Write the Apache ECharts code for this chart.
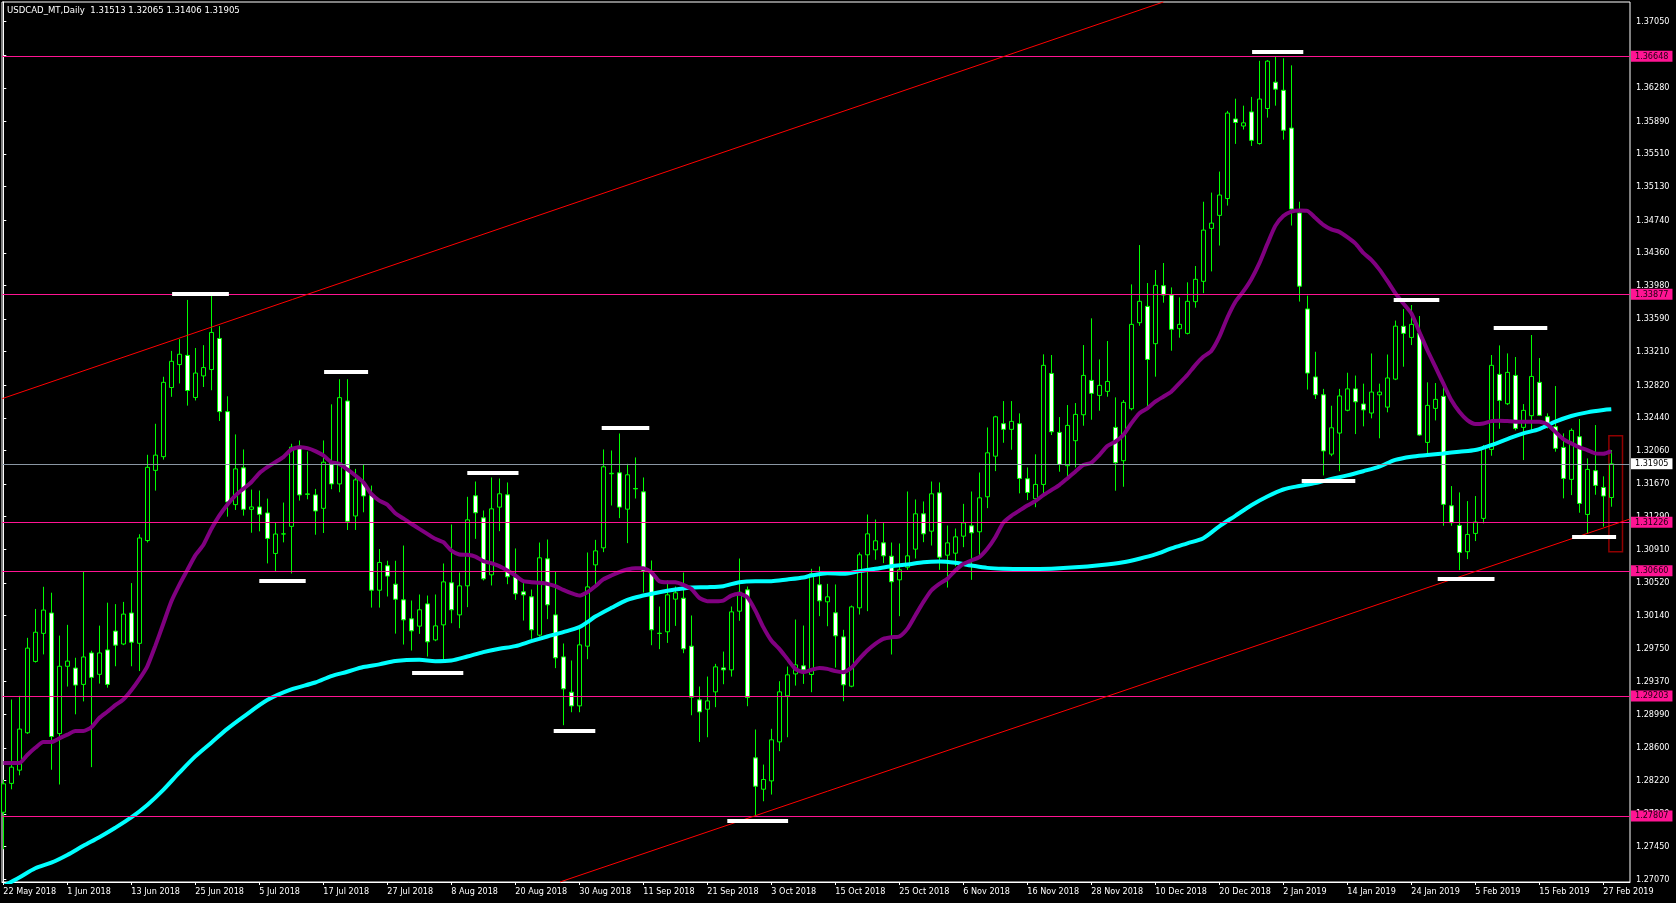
<!DOCTYPE html>
<html>
<head>
<meta charset="utf-8">
<script src="https://cdn.jsdelivr.net/npm/echarts@6/dist/echarts.min.js"></script>
<style>
html,body{margin:0;padding:0;background:#000;}
#chart{width:1676px;height:903px;}
</style>
</head>
<body>
<div id="chart"></div>
<script>
// ---- data ----
const titleText = 'USDCAD_MT,Daily  1.31513 1.32065 1.31406 1.31905';

const xTickBars = [0,8,16,24,32,40,48,56,64,72,80,88,96,104,112,120,128,136,144,152,160,168,176,184,192,200];
const xTickLabels = ['22 May 2018','1 Jun 2018','13 Jun 2018','25 Jun 2018','5 Jul 2018','17 Jul 2018','27 Jul 2018','8 Aug 2018','20 Aug 2018','30 Aug 2018','11 Sep 2018','21 Sep 2018','3 Oct 2018','15 Oct 2018','25 Oct 2018','6 Nov 2018','16 Nov 2018','28 Nov 2018','10 Dec 2018','20 Dec 2018','2 Jan 2019','14 Jan 2019','24 Jan 2019','5 Feb 2019','15 Feb 2019','27 Feb 2019'];

const yTickPrices = [1.27070,1.27450,1.27830,1.28220,1.28600,1.28990,1.29370,1.29750,1.30140,1.30520,1.30910,1.31290,1.31670,1.32060,1.32440,1.32820,1.33210,1.33590,1.33980,1.34360,1.34740,1.35130,1.35510,1.35890,1.36280,1.36660,1.37050];

const openP = [1.27850,1.28186,1.28340,1.28775,1.29605,1.29932,1.30169,1.28766,1.29549,1.29528,1.29338,1.29704,1.29455,1.29739,1.29958,1.29808,1.30169,1.29816,1.31012,1.31829,
1.31988,1.32793,1.33060,1.33167,1.32677,1.32928,1.33002,1.33364,1.32512,1.31430,1.31858,1.31376,1.31403,1.31333,1.30862,1.31088,1.31177,1.32111,1.31555,1.31543,
1.31387,1.31913,1.31671,1.32636,1.31298,1.31679,1.31535,1.30434,1.30718,1.30504,1.30322,1.30101,1.30016,1.30275,1.29856,1.30031,1.30520,1.30147,1.30485,1.31533,
1.31276,1.30613,1.31401,1.31544,1.30586,1.30415,1.30357,1.29911,1.30799,1.30147,1.29658,1.29247,1.29088,1.29783,1.30729,1.30927,1.31789,1.31800,1.31377,1.31618,
1.31579,1.30636,1.29934,1.29950,1.30330,1.30341,1.29783,1.29158,1.29049,1.29251,1.29530,1.29507,1.30190,1.30438,1.28483,1.28118,1.28215,1.28669,1.29205,1.29460,
1.29554,1.29453,1.30497,1.30299,1.30171,1.29891,1.29317,1.30229,1.30846,1.30904,1.30985,1.30830,1.30555,1.30702,1.30912,1.31323,1.31121,1.31567,1.30842,1.30865,
1.31063,1.31183,1.31114,1.31521,1.31994,1.32372,1.32306,1.32372,1.31731,1.31499,1.31665,1.32957,1.32271,1.31883,1.32174,1.32476,1.32876,1.32701,1.32748,1.32329,
1.31941,1.32546,1.33547,1.33737,1.33303,1.33978,1.33869,1.33477,1.33423,1.33792,1.34029,1.34645,1.34796,1.34992,1.35918,1.35836,1.36000,1.35632,1.36040,1.36346,
1.36252,1.35812,1.34825,1.33707,1.32916,1.32708,1.32018,1.32263,1.32528,1.32777,1.32601,1.32496,1.32708,1.32565,1.32891,1.33505,1.33376,1.33423,1.32154,1.32550,
1.32690,1.31417,1.31188,1.30882,1.31095,1.31270,1.32073,1.32946,1.32604,1.32934,1.32329,1.32465,1.32853,1.32453,1.32337,1.32096,1.31724,1.32220,1.31316,1.31825,
1.31630,1.31513];
const closeP = [1.28181,1.28375,1.28818,1.29760,1.29945,1.30203,1.28732,1.29549,1.29609,1.29330,1.29657,1.29420,1.29704,1.29338,1.29795,1.30156,1.29829,1.31042,1.31864,1.32006,
1.32853,1.33098,1.33180,1.32758,1.32961,1.33025,1.33434,1.32512,1.31461,1.31846,1.31376,1.31403,1.31317,1.31037,1.31088,1.31090,1.32099,1.31543,1.31550,1.31356,
1.31924,1.31671,1.32675,1.31236,1.31718,1.31531,1.30434,1.30757,1.30598,1.30329,1.30089,1.29961,1.30206,1.29833,1.30019,1.30531,1.30206,1.30485,1.31253,1.31335,
1.30566,1.31381,1.31556,1.30590,1.30392,1.30380,1.29973,1.30811,1.30264,1.29647,1.29286,1.29088,1.29798,1.30473,1.30892,1.31870,1.31795,1.31401,1.31777,1.31613,
1.30656,1.29973,1.29930,1.30380,1.30404,1.29752,1.29189,1.29018,1.29146,1.29542,1.29507,1.30182,1.30411,1.29185,1.28153,1.28231,1.28693,1.29251,1.29449,1.29565,
1.29507,1.30625,1.30310,1.30357,1.29903,1.29333,1.30240,1.30846,1.31090,1.31009,1.30834,1.30532,1.30671,1.30834,1.31323,1.31090,1.31556,1.30819,1.30985,1.31055,
1.31218,1.31102,1.31509,1.32033,1.32452,1.32306,1.32399,1.31735,1.31572,1.31665,1.33051,1.32278,1.31898,1.32352,1.32480,1.32934,1.32725,1.32818,1.32864,1.31918,
1.32620,1.33528,1.33796,1.33120,1.33982,1.33869,1.33470,1.33528,1.33796,1.34052,1.34625,1.34706,1.35033,1.35987,1.35877,1.35873,1.35669,1.36150,1.36591,1.36265,
1.35787,1.34870,1.33972,1.32961,1.32708,1.32055,1.32324,1.32695,1.32777,1.32626,1.32532,1.32740,1.32740,1.32904,1.33507,1.33423,1.33528,1.32240,1.32585,1.32655,
1.31433,1.31219,1.30874,1.31083,1.31227,1.32084,1.33051,1.32643,1.32969,1.32317,1.32527,1.32922,1.32469,1.32364,1.32085,1.31735,1.32294,1.31444,1.31840,1.31654,
1.31530,1.31905];
const lowP = [1.27420,1.28117,1.28280,1.28762,1.29592,1.29687,1.28345,1.28173,1.29313,1.28990,1.29140,1.28375,1.29347,1.29300,1.29549,1.29795,1.29549,1.29493,1.30990,1.31593,
1.31954,1.32685,1.32840,1.32582,1.32642,1.32799,1.32761,1.32403,1.31290,1.31368,1.31302,1.31103,1.31119,1.30746,1.30648,1.30991,1.30629,1.31477,1.31492,1.31080,
1.31100,1.31609,1.31574,1.31135,1.31135,1.31341,1.30232,1.30232,1.30361,1.29929,1.29802,1.29732,1.29926,1.29662,1.29841,1.29596,1.30050,1.29992,1.30237,1.31032,
1.30547,1.30489,1.31121,1.30504,1.30322,1.30081,1.29868,1.29895,1.30097,1.29527,1.28863,1.29014,1.29014,1.29631,1.30481,1.30877,1.31420,1.31273,1.30982,1.31501,
1.30407,1.29794,1.29748,1.29821,1.30019,1.29701,1.28979,1.28668,1.28723,1.29073,1.29340,1.29429,1.30078,1.29084,1.27812,1.27978,1.28056,1.28561,1.28723,1.29324,
1.29344,1.29247,1.30132,1.30015,1.29534,1.29142,1.29305,1.30151,1.30190,1.30788,1.30749,1.29686,1.30132,1.30671,1.30803,1.30993,1.30954,1.30671,1.30465,1.30714,
1.30935,1.30555,1.30842,1.31389,1.31820,1.32150,1.32069,1.31561,1.31483,1.31400,1.31541,1.32240,1.31813,1.31762,1.31863,1.32348,1.32418,1.32523,1.32686,1.31592,
1.31638,1.32527,1.33512,1.32558,1.32919,1.33780,1.33221,1.33373,1.33411,1.33722,1.33891,1.34144,1.34445,1.34910,1.35628,1.35795,1.35604,1.35620,1.35934,1.36073,
1.35677,1.34678,1.33793,1.32769,1.32659,1.31770,1.31994,1.31819,1.32516,1.32251,1.32341,1.32434,1.32202,1.32504,1.32879,1.33035,1.33287,1.32232,1.32026,1.32410,
1.31184,1.31184,1.30668,1.30796,1.31006,1.31212,1.31999,1.32313,1.32589,1.32294,1.31949,1.32278,1.32461,1.32317,1.32046,1.31503,1.31541,1.31336,1.31095,1.31545,
1.31173,1.31406];
const highP = [1.28228,1.29162,1.29205,1.29880,1.30216,1.30474,1.30405,1.29906,1.30031,1.29648,1.30655,1.29730,1.30022,1.30289,1.30272,1.30298,1.30517,1.31085,1.32010,1.32371,
1.32918,1.33219,1.33356,1.33812,1.33253,1.33286,1.33858,1.33507,1.32691,1.32247,1.32072,1.31605,1.31594,1.31500,1.31220,1.31454,1.32138,1.32177,1.32049,1.31613,
1.32177,1.32597,1.32889,1.32889,1.31846,1.31897,1.31652,1.30913,1.30777,1.30777,1.30954,1.30314,1.30384,1.30372,1.30384,1.30745,1.31199,1.30640,1.31521,1.31699,
1.31362,1.31746,1.31734,1.31688,1.30920,1.30516,1.30442,1.30989,1.31024,1.30652,1.29814,1.29616,1.30004,1.30873,1.31020,1.32072,1.32060,1.32258,1.31905,1.31979,
1.31746,1.30780,1.30244,1.30547,1.30477,1.30640,1.30140,1.29313,1.29429,1.29577,1.29720,1.30244,1.30803,1.30477,1.28813,1.28405,1.28821,1.29375,1.29546,1.30093,
1.30023,1.30683,1.30710,1.30508,1.30501,1.29973,1.30256,1.30873,1.31315,1.31257,1.31222,1.30989,1.30978,1.31583,1.31490,1.31467,1.31699,1.31688,1.31187,1.31152,
1.31439,1.31583,1.31804,1.32328,1.32464,1.32635,1.32635,1.32492,1.31863,1.32015,1.33179,1.33171,1.32449,1.32589,1.32612,1.33287,1.33598,1.33120,1.33334,1.32678,
1.32647,1.33993,1.34451,1.34009,1.34160,1.34242,1.33958,1.33842,1.34017,1.34207,1.34955,1.35061,1.35306,1.36012,1.36154,1.36073,1.36175,1.36595,1.36603,1.36644,
1.36624,1.36542,1.34955,1.33862,1.33209,1.32777,1.32581,1.32777,1.32965,1.32932,1.32838,1.33189,1.32838,1.33177,1.33572,1.33706,1.33753,1.33625,1.32853,1.32845,
1.32810,1.31646,1.31572,1.31471,1.31530,1.32123,1.33171,1.33283,1.33190,1.33148,1.32600,1.33404,1.33136,1.32492,1.32810,1.32259,1.32317,1.32426,1.31968,1.32356,
1.31759,1.32065];

// fast moving average (purple), read as [bar, price]
const maFast = [[0,1.28422],[1,1.28422],[2,1.28422],[3,1.28517],[4,1.28600],[5,1.28667],[6,1.28667],[7,1.28710],[8,1.28753],[9,1.28796],[10,1.28796],[11,1.28839],[12,1.28947],[13,1.29020],[14,1.29097],[15,1.29162],[16,1.29270],[17,1.29399],[18,1.29549],[19,1.29786],[20,1.30044],[21,1.30302],[22,1.30496],[23,1.30668],[24,1.30840],[25,1.30960],[26,1.31146],[27,1.31302],[28,1.31430],[29,1.31535],[30,1.31613],[31,1.31691],[32,1.31796],[33,1.31866],[34,1.31924],[35,1.31983],[36,1.32072],[37,1.32099],[38,1.32088],[39,1.32053],[40,1.32002],[41,1.31924],[42,1.31905],[43,1.31839],[44,1.31769],[45,1.31691],[46,1.31555],[47,1.31477],[48,1.31430],[49,1.31330],[50,1.31270],[51,1.31207],[52,1.31148],[53,1.31090],[54,1.31032],[55,1.30993],[56,1.30896],[57,1.30850],[58,1.30846],[59,1.30826],[60,1.30772],[61,1.30749],[62,1.30714],[63,1.30663],[64,1.30605],[65,1.30539],[66,1.30527],[67,1.30520],[68,1.30508],[69,1.30481],[70,1.30438],[71,1.30400],[72,1.30372],[73,1.30411],[74,1.30480],[75,1.30560],[76,1.30605],[77,1.30644],[78,1.30675],[79,1.30691],[80,1.30691],[81,1.30644],[82,1.30539],[83,1.30527],[84,1.30527],[85,1.30497],[86,1.30450],[87,1.30345],[88,1.30306],[89,1.30306],[90,1.30314],[91,1.30372],[92,1.30392],[93,1.30353],[94,1.30198],[95,1.30004],[96,1.29849],[97,1.29752],[98,1.29635],[99,1.29519],[100,1.29480],[101,1.29507],[102,1.29530],[103,1.29519],[104,1.29492],[105,1.29480],[106,1.29530],[107,1.29635],[108,1.29732],[109,1.29810],[110,1.29868],[111,1.29887],[112,1.29895],[113,1.29984],[114,1.30140],[115,1.30295],[116,1.30431],[117,1.30508],[118,1.30566],[119,1.30663],[120,1.30741],[121,1.30780],[122,1.30819],[123,1.30916],[124,1.31051],[125,1.31220],[126,1.31300],[127,1.31360],[128,1.31420],[129,1.31470],[130,1.31540],[131,1.31599],[132,1.31658],[133,1.31735],[134,1.31813],[135,1.31890],[136,1.31918],[137,1.32007],[138,1.32112],[139,1.32162],[140,1.32240],[141,1.32375],[142,1.32492],[143,1.32550],[144,1.32628],[145,1.32686],[146,1.32744],[147,1.32841],[148,1.32938],[149,1.33054],[150,1.33150],[151,1.33218],[152,1.33381],[153,1.33605],[154,1.33789],[155,1.33911],[156,1.34054],[157,1.34237],[158,1.34462],[159,1.34674],[160,1.34788],[161,1.34841],[162,1.34853],[163,1.34849],[164,1.34768],[165,1.34686],[166,1.34633],[167,1.34604],[168,1.34543],[169,1.34470],[170,1.34360],[171,1.34278],[172,1.34168],[173,1.34033],[174,1.33891],[175,1.33772],[176,1.33656],[177,1.33442],[178,1.33229],[179,1.33035],[180,1.32841],[181,1.32647],[182,1.32511],[183,1.32414],[184,1.32368],[185,1.32375],[186,1.32402],[187,1.32406],[188,1.32402],[189,1.32395],[190,1.32395],[191,1.32395],[192,1.32395],[193,1.32364],[194,1.32278],[195,1.32193],[196,1.32143],[197,1.32096],[198,1.32065],[199,1.32026],[200,1.32022],[201,1.32053]];

// slow moving average (cyan), read as [bar, price]
const maSlow = [[0,1.26990],[2,1.27090],[4,1.27198],[6,1.27263],[8,1.27353],[10,1.27460],[12,1.27560],[14,1.27670],[16,1.27790],[18,1.27935],[20,1.28110],[22,1.28310],[24,1.28500],[26,1.28660],[28,1.28820],[30,1.28960],[33,1.29156],[36,1.29280],[39,1.29360],[41,1.29435],[43,1.29485],[45,1.29540],[47,1.29571],[49,1.29610],[52,1.29624],[54,1.29608],[56,1.29616],[58,1.29662],[60,1.29713],[62,1.29752],[64,1.29783],[66,1.29841],[68,1.29895],[70,1.29946],[72,1.30004],[73,1.30062],[74,1.30128],[76,1.30229],[78,1.30322],[80,1.30372],[82,1.30411],[84,1.30442],[86,1.30465],[88,1.30469],[90,1.30481],[92,1.30527],[94,1.30539],[96,1.30539],[98,1.30559],[100,1.30582],[101,1.30605],[103,1.30632],[105,1.30625],[107,1.30656],[109,1.30683],[111,1.30714],[113,1.30733],[115,1.30760],[117,1.30768],[119,1.30753],[121,1.30722],[123,1.30694],[125,1.30683],[128,1.30680],[131,1.30685],[134,1.30700],[137,1.30725],[140,1.30760],[142,1.30800],[144,1.30850],[146,1.30920],[148,1.30980],[150,1.31040],[152,1.31178],[154,1.31300],[156,1.31423],[158,1.31525],[160,1.31606],[162,1.31647],[164,1.31680],[166,1.31729],[168,1.31770],[170,1.31819],[172,1.31872],[174,1.31950],[176,1.31987],[178,1.32007],[180,1.32026],[182,1.32046],[184,1.32065],[186,1.32123],[188,1.32193],[190,1.32259],[192,1.32309],[194,1.32395],[196,1.32461],[198,1.32504],[200,1.32531],[201,1.32539]];

// horizontal price levels
const levelPrices = [1.36648, 1.33877, 1.31226, 1.30660, 1.29203, 1.27807];
const bidPrice = 1.31905;

// channel trend lines: [[bar, price], [bar, price]]
const upperTrend = [[-0.16, 1.32663], [145.0, 1.37279]];
const lowerTrend = [[69.6, 1.27039], [203.3, 1.31262]];

// swing markers: [fromBar, toBar, price]
const swingMarks = [[21.1,28.2,1.33889],[32.0,37.8,1.30547],[40.1,45.6,1.32982],[51.1,57.5,1.29476],[58.0,64.4,1.31796],[68.8,74.0,1.28801],[74.8,80.75,1.32328],[90.5,98.1,1.27749],[156.1,162.5,1.36705],[162.3,169.0,1.31708],[173.8,179.5,1.33820],[179.3,186.4,1.30571],[186.3,193.0,1.33485],[196.1,201.6,1.31060]];

// highlight box: [fromBar, toBar, topPrice, bottomPrice]
const boxMark = [200.7, 202.4, 1.32232, 1.30882];

// ---- chart ----
const FONT = '"DejaVu Sans Condensed", "Liberation Sans", sans-serif';
const X_MIN = -0.1625, X_MAX = 203.3375;
const candles = openP.map((o, i) => [i, o, closeP[i], lowP[i], highP[i]]);

function levelLine(p, lineColor, boxColor, textColor) {
  return [
    {coord: [X_MIN, p], lineStyle: {color: lineColor, width: 1, type: 'solid'},
     label: {show: true, position: 'end', distance: 1, formatter: () => p.toFixed(5),
       backgroundColor: boxColor, color: textColor, fontSize: 9, fontFamily: FONT,
       padding: [1, 4, 1, 4], lineHeight: 9}},
    {coord: [X_MAX, p]}
  ];
}

const chart = echarts.init(document.getElementById('chart'), null, {renderer: 'canvas'});
chart.setOption({
  backgroundColor: '#000000',
  animation: false,
  title: {
    text: titleText, left: 7, top: 6, padding: 0,
    textStyle: {color: '#FFFFFF', fontSize: 9.5, fontWeight: 'normal', fontFamily: FONT}
  },
  grid: {left: 2, top: 2, right: 46, bottom: 21, show: true, borderColor: '#FFFFFF', borderWidth: 1, backgroundColor: '#000000'},
  xAxis: {
    type: 'value', min: X_MIN, max: X_MAX, splitLine: {show: false},
    axisLine: {show: true, lineStyle: {color: '#FFFFFF', width: 1}},
    axisTick: {show: true, customValues: xTickBars, length: 3, lineStyle: {color: '#FFFFFF'}},
    axisLabel: {
      show: true, customValues: xTickBars, color: '#FFFFFF', fontSize: 9, fontFamily: FONT,
      align: 'left', margin: 5,
      formatter: v => { const k = xTickBars.indexOf(Math.round(v)); return k >= 0 ? xTickLabels[k] : ''; }
    }
  },
  yAxis: {
    type: 'value', position: 'right', min: 1.270384, max: 1.372793, scale: true, splitLine: {show: false},
    axisLine: {show: true, lineStyle: {color: '#FFFFFF', width: 1}},
    axisTick: {show: true, customValues: yTickPrices, length: 3, lineStyle: {color: '#FFFFFF'}},
    axisLabel: {
      show: true, customValues: yTickPrices, color: '#FFFFFF', fontSize: 9, fontFamily: FONT, margin: 6,
      formatter: v => v.toFixed(5)
    }
  },
  series: [
    {
      name: 'levels', type: 'line', data: [], z: 1, clip: false, silent: true,
      markLine: {
        silent: true, symbol: ['none', 'none'], animation: false,
        data: levelPrices.map(p => levelLine(p, '#FF1493', '#FF1493', '#1A0010'))
          .concat([levelLine(bidPrice, '#8A96A3', '#FFFFFF', '#000000')])
      }
    },
    {
      name: 'USDCAD', type: 'candlestick', data: candles, z: 2, barWidth: 4,
      itemStyle: {color: '#000000', color0: '#FFFFFF', borderColor: '#00FF00', borderColor0: '#00FF00', borderColorDoji: '#00FF00', borderWidth: 1}
    },
    {
      name: 'trend', type: 'line', data: [], z: 3, clip: false, silent: true,
      markLine: {
        silent: true, symbol: ['none', 'none'], animation: false, label: {show: false},
        lineStyle: {color: '#FF0000', width: 1, type: 'solid'},
        data: [
          [{coord: upperTrend[0]}, {coord: upperTrend[1]}],
          [{coord: lowerTrend[0]}, {coord: lowerTrend[1]}]
        ]
      }
    },
    {
      name: 'slowMA', type: 'line', data: maSlow, z: 3, showSymbol: false, smooth: 0.3,
      lineStyle: {color: '#00FFFF', width: 4}, silent: true
    },
    {
      name: 'fastMA', type: 'line', data: maFast, z: 3, showSymbol: false, smooth: 0.2,
      lineStyle: {color: '#800080', width: 4}, silent: true
    },
    {
      name: 'swings', type: 'line', data: [], z: 4, clip: false, silent: true,
      markLine: {
        silent: true, symbol: ['none', 'none'], animation: false, label: {show: false},
        lineStyle: {color: '#FFFFFF', width: 4, type: 'solid'},
        data: swingMarks.map(s => [{coord: [s[0], s[2]]}, {coord: [s[1], s[2]]}])
      },
      markArea: {
        silent: true, animation: false,
        itemStyle: {color: 'rgba(0,0,0,0)', borderColor: '#900000', borderWidth: 1.5},
        data: [[{coord: [boxMark[0], boxMark[2]]}, {coord: [boxMark[1], boxMark[3]]}]]
      }
    }
  ]
});
</script>
</body>
</html>
